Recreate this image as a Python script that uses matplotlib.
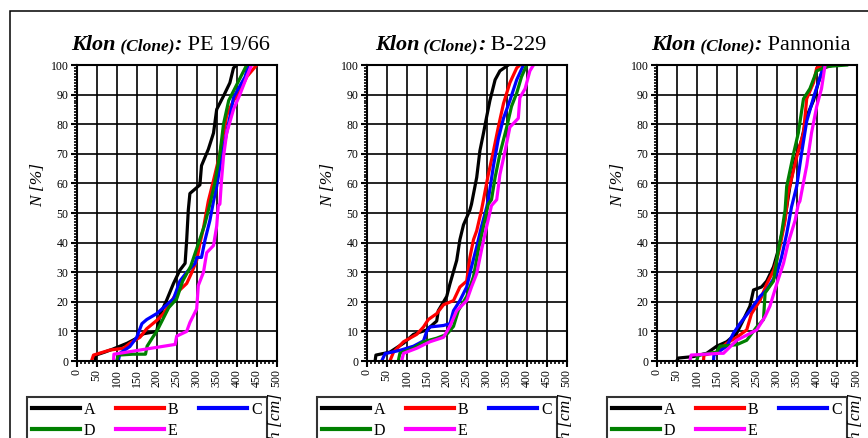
import matplotlib
matplotlib.use("Agg")
import matplotlib.pyplot as plt
from matplotlib.ticker import MultipleLocator
from matplotlib.patches import Rectangle

plt.rcParams['font.family'] = ['Liberation Serif', 'DejaVu Serif']

W, H = 868, 438

clones = ['PE 19/66', 'B-229', 'Pannonia']
series = ['A', 'B', 'C', 'D', 'E']
colors = ['#000000', '#ff0000', '#0000ff', '#008000', '#ff00ff']
x_ticks = list(range(0, 501, 50))
y_ticks = list(range(0, 101, 10))

# clone PE 19/66 : h [cm] / N [%]
pe_A_h = [46, 48, 70, 90, 126, 150, 167, 200, 208, 225, 242, 258, 271, 275, 279, 283, 308, 312, 329, 342, 350, 367, 383, 392, 400]
pe_A_n = [0, 2, 3, 4, 6, 7.7, 9.2, 10, 15.5, 20.6, 26.2, 30.7, 33, 41, 51, 56.6, 59.5, 66, 71.5, 77, 85, 89.5, 94, 99, 100]
pe_B_h = [37, 42, 83, 117, 133, 158, 175, 200, 217, 233, 250, 275, 287, 300, 308, 317, 325, 329, 342, 358, 367, 375, 392, 408, 425, 450]
pe_B_n = [0, 2, 3.7, 4.3, 6, 8, 10.9, 13.7, 16, 19.4, 23, 26.2, 29.7, 34, 39.7, 45, 51, 54, 61, 70, 77, 83, 88, 91, 96, 100]
pe_C_h = [104, 108, 133, 150, 163, 175, 200, 225, 242, 258, 275, 296, 300, 312, 321, 333, 342, 350, 362, 371, 383, 392, 404, 421, 429]
pe_C_n = [0, 2.6, 4.9, 8, 12.6, 14, 16, 19, 21, 27, 30, 33, 35, 35, 41, 47.5, 54, 59, 69, 74.5, 82.5, 89, 92, 96, 100]
pe_D_h = [100, 104, 140, 172, 176, 190, 200, 215, 230, 250, 265, 285, 300, 320, 333, 345, 358, 367, 380, 395, 410, 425]
pe_D_n = [0, 2, 2.3, 2.3, 5, 8, 10, 14, 18, 21, 27, 32, 38, 46, 53, 60, 70, 80, 88, 92, 96, 100]
pe_E_h = [92, 93, 246, 250, 275, 283, 300, 304, 317, 325, 342, 350, 354, 358, 362, 367, 375, 392, 408, 425, 437]
pe_E_n = [0, 2.3, 5.6, 8.4, 10, 13, 17.6, 25.5, 30, 36.6, 39, 45.6, 52.5, 53, 61, 69, 77, 85, 90, 96, 100]

# clone B-229
b_A_h = [21, 23, 58, 92, 117, 150, 175, 179, 200, 208, 225, 233, 242, 258, 262, 275, 283, 292, 300, 308, 321, 333, 354]
b_A_n = [0, 2, 3, 6, 9, 10.5, 13.5, 17, 21.8, 26, 34, 41, 46, 51, 53, 62, 71, 77, 82.6, 88, 95, 98, 100]
b_B_h = [58, 67, 92, 125, 142, 154, 175, 192, 217, 233, 250, 258, 267, 275, 287, 292, 304, 317, 329, 342, 358, 375, 383]
b_B_n = [0, 3, 6.5, 9, 11.5, 14, 16, 19, 20.4, 25, 27, 35, 41, 44, 51, 54.5, 63, 71, 79, 87, 94, 99, 100]
b_C_h = [37.5, 46, 83, 117, 142, 150, 158, 192, 208, 217, 233, 250, 262, 275, 287, 300, 304, 317, 329, 342, 358, 375, 392]
b_C_n = [0, 2.5, 3.6, 5, 6.8, 10, 11.5, 12, 12.6, 17, 20.4, 25, 31.8, 38.6, 45.4, 52, 54.5, 66, 75, 82, 88, 95, 100]
b_D_h = [79, 83, 117, 142, 175, 200, 217, 229, 250, 267, 279, 292, 304, 312, 321, 333, 350, 362, 375, 387, 400]
b_D_n = [0, 2.6, 4.3, 6.5, 7.7, 9, 11.7, 17, 21.8, 28.5, 37.5, 45.5, 53, 54.5, 62, 70, 79, 86, 90.5, 96, 100]
b_E_h = [87.5, 92, 125, 158, 192, 208, 225, 250, 262, 275, 287, 300, 312, 325, 333, 346, 358, 379, 383, 396, 408, 417]
b_E_n = [0, 2.6, 4.3, 6.5, 8, 11.7, 17, 20.4, 25, 29.5, 37.5, 45.5, 52.5, 54.5, 63, 71, 79, 82, 89, 92, 98, 100]

# clone Pannonia
pa_A_h = [50, 54, 92, 125, 150, 175, 200, 217, 233, 242, 262, 275, 292, 304, 317, 325, 333, 346, 362, 375, 392, 404, 417, 442]
pa_A_n = [0, 1, 1.5, 2.6, 5, 6.5, 9.4, 14, 18.5, 24, 25, 27, 31.8, 37.5, 45.5, 52, 59, 68, 74.5, 82.6, 88, 94, 99, 100]
pa_B_h = [117, 118, 150, 175, 200, 225, 237, 258, 275, 292, 300, 308, 321, 329, 350, 367, 375, 392, 400, 417]
pa_B_n = [0, 2, 3, 6, 8, 10.5, 16, 20.4, 26, 30.5, 34, 38.6, 47.5, 57, 69, 77, 88.6, 94, 99, 100]
pa_C_h = [142, 143, 175, 192, 208, 233, 258, 275, 300, 312, 325, 337, 350, 362, 375, 392, 404, 417, 429]
pa_C_n = [0, 2, 5, 9.4, 12.6, 17, 21.8, 24, 29.5, 35, 43, 52, 59, 70, 81, 89, 94, 99.5, 100]
pa_D_h = [100, 104, 150, 158, 200, 225, 250, 267, 271, 292, 304, 312, 321, 325, 342, 354, 367, 383, 400, 425, 475]
pa_D_n = [0, 2, 3, 5, 5.5, 7, 11.5, 14, 23, 27, 37.5, 43, 51, 59, 70, 77, 88.6, 92, 98, 99.5, 100]
pa_E_h = [83, 86, 158, 167, 200, 250, 271, 283, 300, 317, 329, 346, 354, 358, 375, 387, 400, 412, 421]
pa_E_n = [0, 2, 2.6, 2.6, 7, 10.5, 15, 18.5, 26, 33, 40, 47.5, 53, 54, 66, 77, 86, 92, 100]

panel_data = [
    [(pe_A_h, pe_A_n), (pe_B_h, pe_B_n), (pe_C_h, pe_C_n), (pe_D_h, pe_D_n), (pe_E_h, pe_E_n)],
    [(b_A_h, b_A_n), (b_B_h, b_B_n), (b_C_h, b_C_n), (b_D_h, b_D_n), (b_E_h, b_E_n)],
    [(pa_A_h, pa_A_n), (pa_B_h, pa_B_n), (pa_C_h, pa_C_n), (pa_D_h, pa_D_n), (pa_E_h, pa_E_n)],
]

fig = plt.figure(figsize=(W / 100, H / 100), dpi=100)

# outer frame (only left and top edges are visible in the crop)
fig.patches.append(Rectangle((10 / W, -0.2), 1.2, 1.2 - 11 / H, transform=fig.transFigure,
                             fill=False, edgecolor='black', linewidth=1.1, clip_on=False))

ax_left_px = [76.7, 366.7, 656.7]
ax_w_px, ax_top_px, ax_bot_px = 200, 65, 361

# legend is filled column by column, so reorder to read A B C / D E
legend_order = [0, 3, 1, 4, 2]

for i, clone in enumerate(clones):
    ax = fig.add_axes([ax_left_px[i] / W, 1 - ax_bot_px / H, ax_w_px / W, (ax_bot_px - ax_top_px) / H])
    lines = []
    for (h, n), s, c in zip(panel_data[i], series, colors):
        ln, = ax.plot(h, n, color=c, lw=2.3, label=s, solid_joinstyle='round')
        lines.append(ln)
    ax.set_xlim(0, 500)
    ax.set_ylim(0, 100)
    ax.set_xticks(x_ticks)
    ax.set_yticks(y_ticks)
    ax.xaxis.set_minor_locator(MultipleLocator(10))
    ax.yaxis.set_minor_locator(MultipleLocator(1))
    ax.tick_params(which='major', direction='out', length=4, width=1.5, labelsize=8.5, pad=2)
    ax.tick_params(which='minor', direction='out', length=2.5, width=1.2)
    ax.tick_params(axis='x', labelrotation=90)
    ax.grid(True, which='major', color='black', lw=1.2)
    ax.set_axisbelow(True)
    for sp in ax.spines.values():
        sp.set_linewidth(1.5)

    # y label and rotated x label (x label sits at the lower right, partly cropped)
    fig.text((ax_left_px[i] - 39) / W, 1 - 185 / H, 'N [%]', rotation=90, ha='center', va='center',
             fontsize=12.5, fontstyle='italic')
    fig.text((ax_left_px[i] + 199) / W, 1 - 417 / H, 'h [cm]', rotation=90, ha='center', va='center',
             fontsize=12.5, fontstyle='italic')

    handles = [lines[k] for k in legend_order]
    labels = [series[k] for k in legend_order]
    leg = ax.legend(handles, labels, loc='upper left',
                    bbox_to_anchor=((ax_left_px[i] - 49.7) / W, 1 - 397 / H),
                    bbox_transform=fig.transFigure, ncol=3, fontsize=11.5, frameon=True,
                    fancybox=False, borderaxespad=0, handlelength=3.0, handletextpad=0.25,
                    columnspacing=1.3, labelspacing=0.3, borderpad=0.3)
    leg.get_frame().set_edgecolor('black')
    leg.get_frame().set_linewidth(1.5)
    for line in leg.get_lines():
        line.set_linewidth(3)

# titles built from pieces: bold italic "Klon (Clone):" + regular clone name
title_parts = []
for i, clone in enumerate(clones):
    parts = [
        fig.text(0, 0, 'Klon', fontsize=16, fontweight='bold', fontstyle='italic', va='baseline'),
        fig.text(0, 0, ' (Clone)', fontsize=12.5, fontweight='bold', fontstyle='italic', va='baseline'),
        fig.text(0, 0, ':', fontsize=16, fontweight='bold', fontstyle='italic', va='baseline'),
        fig.text(0, 0, ' ' + clone, fontsize=16, va='baseline'),
    ]
    title_parts.append(parts)

fig.canvas.draw()
renderer = fig.canvas.get_renderer()
for i, parts in enumerate(title_parts):
    widths = [t.get_window_extent(renderer).width for t in parts]
    x = ax_left_px[i] + ax_w_px / 2 - sum(widths) / 2 - 6
    for t, w in zip(parts, widths):
        t.set_position((x / W, 1 - 50 / H))
        x += w

fig.savefig('out.png', dpi=100)
